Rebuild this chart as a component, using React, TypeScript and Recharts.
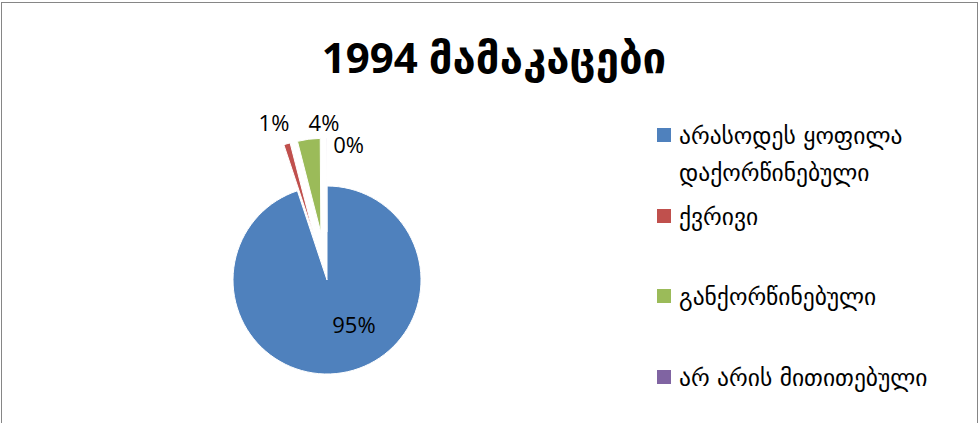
import React from 'react';
import { PieChart, Pie, Cell, Legend, Sector } from 'recharts';

const title = '1994 მამაკაცები';
const categories = [
  'არასოდეს ყოფილა დაქორწინებული',
  'ქვრივი',
  'განქორწინებული',
  'არ არის მითითებული',
];
const shares = [94.9, 1.1, 3.9, 0.1];
const colors = ['#4F81BD', '#C0504D', '#9BBB59', '#8064A2'];
const exploded = [false, true, true, true];

const data = categories.map((name, i) => ({ name, value: shares[i], explode: exploded[i] }));

const RAD = Math.PI / 180;
const EXPLODE = 48;
const labelTweak = [
  { r: 52, a: 22 },
  { r: 119, a: 3 },
  { r: 110, a: -9 },
  { r: 91, a: -14 },
];

const shiftFor = (midAngle: number, explode: boolean) =>
  explode
    ? { dx: Math.cos(-midAngle * RAD) * EXPLODE, dy: Math.sin(-midAngle * RAD) * EXPLODE }
    : { dx: 0, dy: 0 };

const ExplodedSector = (props: any) => {
  const ex = props.payload?.explode ?? props.explode ?? false;
  const { dx, dy } = shiftFor(props.midAngle, ex);
  return <Sector {...props} cx={props.cx + dx} cy={props.cy + dy} />;
};

const numFont = '"Open Sans", "DejaVu Sans", sans-serif';
const geoFont = '"DejaVu Sans", sans-serif';

const renderLabel = (props: any) => {
  const { cx, cy, midAngle, percent, index } = props;
  const { dx, dy } = shiftFor(midAngle, exploded[index]);
  const t = labelTweak[index];
  const ang = midAngle + t.a;
  const x = cx + dx + t.r * Math.cos(-ang * RAD);
  const y = cy + dy + t.r * Math.sin(-ang * RAD);
  return (
    <text
      key={`lbl-${index}`}
      x={x}
      y={y}
      textAnchor="middle"
      dominantBaseline="central"
      fill="#000"
      fontFamily={numFont}
      fontSize={22}
    >
      {`${Math.round(percent * 100)}%`}
    </text>
  );
};

const LegendContent = (props: any) => {
  const payload = [...(props.payload || [])].sort(
    (a: any, b: any) => categories.indexOf(a.value) - categories.indexOf(b.value)
  );
  return (
    <div style={{ fontFamily: geoFont, fontSize: 23.5, color: '#000' }}>
      {payload.map((p: any, i: number) => (
        <div key={i} style={{ display: 'flex', alignItems: 'flex-start', height: 80.5 }}>
          <div
            style={{
              width: 14,
              height: 14,
              background: p.color,
              marginTop: 10,
              marginRight: 8,
              flexShrink: 0,
            }}
          />
          <div style={{ width: 290, lineHeight: '37px' }}>{p.value}</div>
        </div>
      ))}
    </div>
  );
};

export default function App() {
  return (
    <div style={{ position: 'absolute', left: 0, top: 0, width: 979, height: 423, overflow: 'hidden', background: '#fff' }}>
      <div
        style={{
          position: 'absolute',
          left: 1,
          top: 2,
          width: 975,
          height: 460,
          border: '1px solid #868686',
        }}
      />
      <div
        style={{
          position: 'absolute',
          left: 0,
          top: 27,
          width: 988,
          textAlign: 'center',
          fontFamily: numFont,
          fontWeight: 700,
          fontSize: 42,
          lineHeight: '60px',
          color: '#000',
        }}
      >
        {title}
      </div>
      <div style={{ position: 'absolute', left: 0, top: 0 }}>
        <PieChart width={979} height={423} margin={{ top: 0, right: 0, bottom: 0, left: 0 }}>
          <Pie
            data={data}
            dataKey="value"
            nameKey="name"
            cx={327}
            cy={280}
            outerRadius={94}
            startAngle={90}
            endAngle={-270}
            stroke="#fff"
            strokeWidth={1}
            isAnimationActive={false}
            label={renderLabel}
            labelLine={false}
            shape={ExplodedSector}
            activeShape={ExplodedSector}
            inactiveShape={ExplodedSector}
          >
            {data.map((d, i) => (
              <Cell key={d.name} fill={colors[i]} />
            ))}
          </Pie>
          <Legend
            layout="vertical"
            verticalAlign="top"
            align="right"
            content={LegendContent}
            wrapperStyle={{ left: 657, top: 118, width: 315 }}
          />
        </PieChart>
      </div>
    </div>
  );
}
